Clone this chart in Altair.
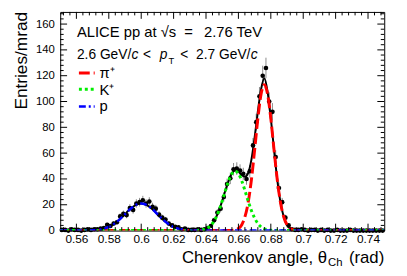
import altair as alt
import pandas as pd

# ---------------- data ----------------
bin_x = [0.551, 0.553, 0.555, 0.557, 0.559, 0.561, 0.563, 0.565, 0.567, 0.569,
         0.571, 0.573, 0.575, 0.577, 0.579, 0.581, 0.583, 0.585, 0.587, 0.589,
         0.591, 0.593, 0.595, 0.597, 0.599, 0.601, 0.603, 0.605, 0.607, 0.609,
         0.611, 0.613, 0.615, 0.617, 0.619, 0.621, 0.623, 0.625, 0.627, 0.629,
         0.631, 0.633, 0.635, 0.637, 0.639, 0.641, 0.643, 0.645, 0.647, 0.649,
         0.651, 0.653, 0.655, 0.657, 0.659, 0.661, 0.663, 0.665, 0.667, 0.669,
         0.671, 0.673, 0.675, 0.677, 0.679, 0.681, 0.683, 0.685, 0.687, 0.689,
         0.691, 0.693, 0.695, 0.697, 0.699, 0.701, 0.703, 0.705, 0.707, 0.709,
         0.711, 0.713, 0.715, 0.717, 0.719, 0.721, 0.723, 0.725, 0.727, 0.729,
         0.731, 0.733, 0.735, 0.737, 0.739, 0.741, 0.743, 0.745, 0.747, 0.749]
counts = [0.5, 0.5, 0.0, 1.0, 0.5, 0.5, 0.0, 0.5, 1.0, 0.5,
          1.0, 1.0, 1.5, 2.0, 4.5, 3.5, 5.5, 6.5, 11.0, 13.0,
          12.0, 17.5, 16.0, 21.0, 22.0, 23.5, 21.0, 22.5, 18.5, 17.0,
          12.5, 10.0, 8.5, 5.5, 4.0, 3.0, 2.5, 1.0, 1.5, 0.5,
          0.5, 0.5, 1.0, 0.5, 1.0, 2.0, 3.5, 8.0, 14.0, 17.0,
          26.0, 36.0, 40.5, 47.5, 48.0, 46.5, 44.0, 40.0, 46.0, 66.0,
          84.0, 104.0, 120.0, 126.0, 100.0, 92.0, 57.0, 33.0, 22.0, 10.0,
          4.0, 1.0, 0.5, 0.5, 1.0, 0.5, 0.0, 0.5, 0.5, 0.0,
          0.5, 0.0, 0.5, 0.0, 0.0, 0.5, 0.0, 0.0, 0.0, 0.5,
          0.0, 0.0, 0.0, 0.0, 0.0, 0.0, 0.0, 0.0, 0.0, 0.0]
errors = [0.5, 0.5, 0, 0.71, 0.5, 0.5, 0, 0.5, 0.71, 0.5,
          0.71, 0.71, 0.87, 1.0, 1.5, 1.32, 1.66, 1.8, 2.35, 2.55,
          2.45, 2.96, 2.83, 3.24, 3.32, 3.43, 3.24, 3.35, 3.04, 2.92,
          2.5, 2.24, 2.06, 1.66, 1.41, 1.22, 1.12, 0.71, 0.87, 0.5,
          0.5, 0.5, 0.71, 0.5, 0.71, 1.0, 1.32, 2.0, 2.65, 2.92,
          3.61, 4.24, 4.5, 4.87, 4.9, 4.82, 4.69, 4.47, 4.8, 5.74,
          6.48, 7.21, 7.75, 7.94, 7.07, 6.78, 5.34, 4.06, 3.32, 2.24,
          1.41, 0.71, 0.5, 0.5, 0.71, 0.5, 0, 0.5, 0.5, 0,
          0.5, 0, 0.5, 0, 0, 0.5, 0, 0, 0, 0.5,
          0, 0, 0, 0, 0, 0, 0, 0, 0, 0]

tot_x = [0.550, 0.562, 0.564, 0.566, 0.568, 0.570, 0.572, 0.574, 0.576, 0.578, 0.580,
         0.582, 0.584, 0.586, 0.588, 0.590, 0.592, 0.594, 0.596, 0.598, 0.600,
         0.602, 0.604, 0.606, 0.608, 0.610, 0.612, 0.614, 0.616, 0.618, 0.620,
         0.622, 0.624, 0.626, 0.628, 0.630, 0.632, 0.634, 0.636, 0.638, 0.640,
         0.642, 0.644, 0.646, 0.648, 0.650, 0.652, 0.654, 0.656, 0.658, 0.660,
         0.662, 0.664, 0.666, 0.668, 0.670, 0.672, 0.674, 0.676, 0.678, 0.680,
         0.682, 0.684, 0.686, 0.688, 0.690, 0.692, 0.694, 0.696, 0.698, 0.700,
         0.750]
tot_y = [0, 0.02, 0.03, 0.06, 0.13, 0.23, 0.42, 0.72, 1.18, 1.87, 2.84,
         4.15, 5.83, 7.88, 10.2, 12.7, 15.3, 17.5, 19.4, 20.6, 21.0,
         20.6, 19.4, 17.5, 15.3, 12.7, 10.2, 7.88, 5.83, 4.15, 2.84,
         1.87, 1.18, 0.72, 0.42, 0.24, 0.16, 0.15, 0.28, 0.62, 1.4,
         2.9, 5.5, 9.7, 15.6, 23.0, 31.2, 38.7, 44.3, 46.5, 45.7,
         43.1, 41.7, 44.6, 54.8, 72.0, 92.3, 109.5, 118.0, 107.5, 87.1,
         62.4, 39.2, 21.6, 10.5, 4.4, 1.6, 0.5, 0.15, 0.04, 0.01,
         0]

p_x = [0.550, 0.562, 0.564, 0.566, 0.568, 0.570, 0.572, 0.574, 0.576, 0.578, 0.580,
       0.582, 0.584, 0.586, 0.588, 0.590, 0.592, 0.594, 0.596, 0.598, 0.600,
       0.602, 0.604, 0.606, 0.608, 0.610, 0.612, 0.614, 0.616, 0.618, 0.620,
       0.622, 0.624, 0.626, 0.628, 0.630, 0.632, 0.634, 0.636, 0.638, 0.750]
p_y = [0, 0.02, 0.03, 0.06, 0.13, 0.23, 0.42, 0.72, 1.18, 1.87, 2.84,
       4.15, 5.83, 7.88, 10.2, 12.7, 15.3, 17.5, 19.4, 20.6, 21.0,
       20.6, 19.4, 17.5, 15.3, 12.7, 10.2, 7.88, 5.83, 4.15, 2.84,
       1.87, 1.18, 0.72, 0.42, 0.23, 0.13, 0.06, 0.03, 0.02, 0]

k_x = [0.550, 0.630, 0.632, 0.634, 0.636, 0.638, 0.640, 0.642, 0.644, 0.646, 0.648,
       0.650, 0.652, 0.654, 0.656, 0.658, 0.660, 0.662, 0.664, 0.666, 0.668,
       0.670, 0.672, 0.674, 0.676, 0.678, 0.680, 0.682, 0.684, 0.686, 0.750]
k_y = [0, 0.01, 0.03, 0.09, 0.25, 0.6, 1.4, 2.9, 5.5, 9.7, 15.6,
       23.0, 31.2, 38.7, 44.1, 46.0, 44.1, 38.7, 31.2, 23.0, 15.6,
       9.7, 5.5, 2.9, 1.4, 0.6, 0.25, 0.09, 0.03, 0.01, 0]

pi_x = [0.550, 0.652, 0.654, 0.656, 0.658, 0.660, 0.662, 0.664, 0.666, 0.668, 0.670,
        0.672, 0.674, 0.676, 0.678, 0.680, 0.682, 0.684, 0.686, 0.688, 0.690,
        0.692, 0.694, 0.696, 0.698, 0.700, 0.750]
pi_y = [0, 0.01, 0.04, 0.15, 0.5, 1.6, 4.4, 10.5, 21.6, 39.2, 62.3,
        86.8, 105.8, 113.0, 105.8, 86.8, 62.3, 39.2, 21.6, 10.5, 4.4,
        1.6, 0.5, 0.15, 0.04, 0.01, 0]

x_major = [0.56, 0.58, 0.60, 0.62, 0.64, 0.66, 0.68, 0.70, 0.72, 0.74]
x_minor = [0.552, 0.556, 0.564, 0.568, 0.572, 0.576, 0.584, 0.588, 0.592, 0.596,
           0.604, 0.608, 0.612, 0.616, 0.624, 0.628, 0.632, 0.636, 0.644, 0.648,
           0.652, 0.656, 0.664, 0.668, 0.672, 0.676, 0.684, 0.688, 0.692, 0.696,
           0.704, 0.708, 0.712, 0.716, 0.724, 0.728, 0.732, 0.736, 0.744, 0.748]
y_major = [0, 20, 40, 60, 80, 100, 120, 140, 160]
y_minor = [4, 8, 12, 16, 24, 28, 32, 36, 44, 48, 52, 56, 64, 68, 72, 76,
           84, 88, 92, 96, 104, 108, 112, 116, 124, 128, 132, 136, 144, 148,
           152, 156, 164, 168]

# ---------------- layout ----------------
W, H = 329, 222
DY = 2  # plot top sits 2px higher than the reference; texts compensate
FONT = "Liberation Sans"
xs = alt.Scale(domain=[0.55, 0.75], nice=False, zero=False)
ys = alt.Scale(domain=[0, 169.4], nice=False, zero=False)

pts = pd.DataFrame({"x": bin_x, "y": counts, "e": errors})
pts["lo"] = pts["y"] - pts["e"]
pts["hi"] = pts["y"] + pts["e"]
bars_df = pts[pts["e"] > 0]

dummy = pd.DataFrame({"a": [0]})

XA = alt.Axis(values=x_major, format="~g", labelFontSize=12, labelFont=FONT,
              labelColor="black", ticks=False, domain=False, grid=False,
              labelPadding=3, title=None, labelFlush=False, labelOverlap=False)
YA = alt.Axis(values=y_major, labelFontSize=11.5, labelFont=FONT,
              labelColor="black", ticks=False, domain=False, grid=False,
              labelPadding=6, title=None, labelFlush=False, labelOverlap=False)

errbars = alt.Chart(bars_df).mark_rule(color="#8a8a8a", strokeWidth=1, clip=True).encode(
    x=alt.X("x:Q", scale=xs, axis=XA),
    y=alt.Y("lo:Q", scale=ys, axis=YA),
    y2="hi:Q",
)
points = alt.Chart(pts).mark_circle(size=22, color="black", opacity=1).encode(
    x=alt.X("x:Q", scale=xs, axis=XA),
    y=alt.Y("y:Q", scale=ys, axis=YA),
)


def curve(xv, yv, color, width, dash=None):
    kw = dict(color=color, strokeWidth=width, clip=True, interpolate="monotone")
    if dash:
        kw["strokeDash"] = dash
    return alt.Chart(pd.DataFrame({"x": xv, "y": yv})).mark_line(**kw).encode(
        x=alt.X("x:Q", scale=xs, axis=XA),
        y=alt.Y("y:Q", scale=ys, axis=YA),
    )


total = curve(tot_x, tot_y, "black", 2)
pion = curve(pi_x, pi_y, "#ff0000", 3, [11, 4])
kaon = curve(k_x, k_y, "#00ee00", 3, [3, 3])
proton = curve(p_x, p_y, "#0000ff", 2.5, [7, 3, 2, 3])


def xticks(vals, length):
    df = pd.DataFrame({"x": vals})
    b = alt.Chart(df).mark_rule(color="black", strokeWidth=1).encode(
        x=alt.X("x:Q", scale=xs, axis=XA), y=alt.value(H), y2=alt.value(H - length))
    t = alt.Chart(df).mark_rule(color="black", strokeWidth=1).encode(
        x=alt.X("x:Q", scale=xs, axis=XA), y=alt.value(0), y2=alt.value(length))
    return [b, t]


def yticks(vals, length):
    df = pd.DataFrame({"y": vals})
    l = alt.Chart(df).mark_rule(color="black", strokeWidth=1).encode(
        y=alt.Y("y:Q", scale=ys, axis=YA), x=alt.value(0), x2=alt.value(length))
    r = alt.Chart(df).mark_rule(color="black", strokeWidth=1).encode(
        y=alt.Y("y:Q", scale=ys, axis=YA), x=alt.value(W), x2=alt.value(W - length))
    return [l, r]


def txt(s, x, y, size, style=None, align="left", angle=None):
    kw = dict(text=s, align=align, baseline="alphabetic", fontSize=size, font=FONT, color="black")
    if style:
        kw["fontStyle"] = style
    if angle is not None:
        kw["angle"] = angle
    return alt.Chart(dummy).mark_text(**kw).encode(x=alt.value(x), y=alt.value(y))


def legline(y, color, width, dash=None):
    kw = dict(color=color, strokeWidth=width)
    if dash:
        kw["strokeDash"] = dash
    return alt.Chart(dummy).mark_rule(**kw).encode(
        x=alt.value(19), x2=alt.value(35), y=alt.value(y))


texts = [
    txt("ALICE pp at", 17, 23.7 + DY, 15),
    txt("\u221as", 102, 23.7 + DY, 15),
    txt("=", 126, 23.7 + DY, 15),
    txt("2.76 TeV", 146, 23.7 + DY, 15),
    txt("2.6 GeV/", 17, 45.3 + DY, 14),
    txt("c", 72.5, 45.3 + DY, 14, style="italic"),
    txt("<", 84, 45.3 + DY, 14),
    txt("p", 101, 45.3 + DY, 14, style="italic"),
    txt("T", 110, 50.5 + DY, 9.5),
    txt("<", 122, 45.3 + DY, 14),
    txt("2.7 GeV/", 138, 45.3 + DY, 14),
    txt("c", 193.5, 45.3 + DY, 14, style="italic"),
    txt("\u03c0\u207a", 40, 65 + DY, 15),
    txt("K\u207a", 40, 82 + DY, 15),
    txt("p", 40, 98.5 + DY, 15),
    txt("Entries/mrad", -34, 0, 17.5, align="right", angle=270),
    txt("Cherenkov angle, \u03b8", 271, 254.5, 17, align="right"),
    txt("Ch", 272, 257.5, 11.5),
    txt("(rad)", W, 254.5, 17, align="right"),
]

legend = [
    legline(60 + DY, "#ff0000", 3, [11, 4]),
    legline(76.5 + DY, "#00ee00", 3, [3, 3]),
    legline(94 + DY, "#0000ff", 2.5, [7, 3, 2, 3]),
]

layers = ([errbars, points, total, pion, kaon, proton]
          + xticks(x_major, 7) + xticks(x_minor, 3.5)
          + yticks(y_major, 7) + yticks(y_minor, 3.5)
          + legend + texts)

chart = alt.layer(*layers).properties(
    width=W, height=H,
    autosize=alt.AutoSizeParams(type="none"),
    padding={"left": 53, "top": 2, "right": 15, "bottom": 36},
).configure_view(stroke="black", strokeWidth=1)

chart.save("out.html", embed_options={"renderer": "svg", "actions": False})
